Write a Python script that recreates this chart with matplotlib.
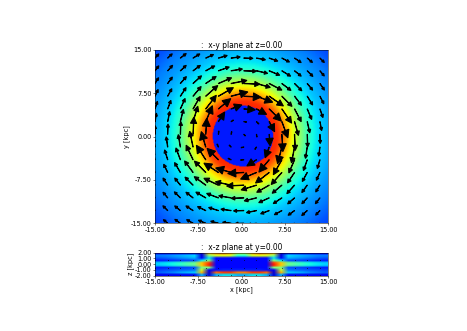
import matplotlib
matplotlib.use("Agg")
import matplotlib.pyplot as plt
import numpy as np

# speed, outside the inner disk
ring_radius = [5.25, 6.0, 6.5, 7.0, 7.5, 8.0, 8.5, 9.0, 9.5, 10.0, 11.0, 12.0, 13.0, 14.0, 15.0, 16.0, 18.0, 20.0, 22.0]
ring_speed = [0.87, 0.86, 0.83, 0.79, 0.74, 0.69, 0.65, 0.61, 0.56, 0.52, 0.44, 0.38, 0.35, 0.32, 0.30, 0.28, 0.25, 0.21, 0.18]
disk_radius = 5.25
disk_speed = 0.15
disk_center = 0.25

# arrow shape in kpc, one value per kpc of radius
arrow_length = [0.2, 0.4, 0.5, 0.5, 0.6, 2.0, 2.8, 3.0, 3.0, 2.8, 2.5,
                2.2, 2.0, 1.8, 1.6, 1.5, 1.4, 1.3, 1.2, 1.1, 1.0, 0.95]
arrow_head = [0.15, 0.15, 0.15, 0.15, 0.18, 1.3, 1.4, 1.35, 1.1, 0.9, 0.75,
              0.65, 0.6, 0.55, 0.55, 0.5, 0.5, 0.5, 0.45, 0.45, 0.45, 0.4]
arrow_pos = [-15.0, -12.8, -10.6, -8.4, -6.2, -4.0, -1.8, 0.4, 2.6, 4.8, 7.0, 9.2, 11.4, 13.6]

xz_field = [
    [0.55, 0.72, 0.78, 0.75, 0.70, 0.08, 0.14, 0.14, 0.13, 0.13, 0.12, 0.12],
    [0.40, 0.60, 0.62, 0.60, 0.50, 0.08, 0.34, 0.32, 0.30, 0.28, 0.26, 0.25],
    [0.13, 0.13, 0.13, 0.13, 0.35, 0.12, 0.30, 0.28, 0.26, 0.24, 0.22, 0.21],
    [0.13, 0.13, 0.13, 0.13, 0.50, 0.35, 0.20, 0.19, 0.18, 0.17, 0.16, 0.15],
    [0.13, 0.13, 0.13, 0.13, 0.85, 0.70, 0.48, 0.44, 0.40, 0.37, 0.35, 0.33],
    [0.13, 0.13, 0.13, 0.13, 0.88, 0.70, 0.48, 0.44, 0.40, 0.37, 0.35, 0.33],
    [0.13, 0.13, 0.13, 0.13, 0.50, 0.50, 0.20, 0.19, 0.18, 0.17, 0.16, 0.15],
    [0.16, 0.16, 0.16, 0.14, 0.10, 0.60, 0.24, 0.23, 0.22, 0.21, 0.20, 0.19],
    [0.78, 0.85, 0.85, 0.80, 0.08, 0.72, 0.33, 0.31, 0.29, 0.26, 0.24, 0.22],
    [0.30, 0.35, 0.35, 0.30, 0.08, 0.30, 0.10, 0.10, 0.10, 0.10, 0.10, 0.10],
]
xz_dot_rows = [0.75, -0.75, -1.95]

xy_ticks = [-15, -7.5, 0, 7.5, 15]
z_ticks = [-2, -1, 0, 1, 2]

W, H = 467, 331
fig = plt.figure(figsize=(W / 72, H / 72), dpi=72)
ax1 = fig.add_axes([155 / W, (H - 223.3) / H, 173 / W, 173.3 / H])
ax2 = fig.add_axes([155 / W, (H - 275.7) / H, 173 / W, 23.2 / H])

# xy plane
cells = np.linspace(-15, 15, 240)
xx, yy = np.meshgrid(cells, cells)
rr = np.hypot(xx - disk_center, yy)
field = np.where(rr < disk_radius, disk_speed, np.interp(rr, ring_radius, ring_speed))
ax1.imshow(field, origin="lower", extent=[-15, 15, -15, 15], cmap="jet", vmin=0, vmax=1,
           interpolation="bilinear", interpolation_stage="rgba", aspect="auto")

for y in arrow_pos:
    for x in arrow_pos:
        r = np.hypot(x, y)
        k = int(round(r))
        dx, dy = arrow_length[k] * y / r, -arrow_length[k] * x / r
        ax1.arrow(x, y, dx, dy, width=0.07, head_width=arrow_head[k], head_length=arrow_head[k],
                  color="k", length_includes_head=True, zorder=3)

ax1.set_xlim(-15, 15)
ax1.set_ylim(-15, 15)
ax1.set_title(":  x-y plane at z=0.00", fontsize=7.5, pad=2.5)
ax1.set_ylabel("y [kpc]", fontsize=6.5, labelpad=1)

# xz plane
half = np.array(xz_field)
full = np.hstack([half[:, ::-1], half])
ax2.imshow(full, extent=[-15, 15, -2, 2], cmap="jet", vmin=0, vmax=1,
           interpolation="bilinear", interpolation_stage="rgba", aspect="auto")
for z in xz_dot_rows:
    ax2.plot(arrow_pos, [z] * len(arrow_pos), "s", ms=1, color="k", alpha=0.6, mew=0)
ax2.set_xlim(-15, 15)
ax2.set_ylim(-2, 2)
ax2.set_title(":  x-z plane at y=0.00", fontsize=7.5, pad=2.5)
ax2.set_xlabel("x [kpc]", fontsize=6.5, labelpad=1)
ax2.set_ylabel("z [kpc]", fontsize=6.5, labelpad=1)

for ax in (ax1, ax2):
    ax.set_xticks(xy_ticks)
    ax.set_xticklabels(["%.2f" % t for t in xy_ticks])
    ax.tick_params(labelsize=6.5, length=2, width=0.5, pad=1.5)
    for s in ax.spines.values():
        s.set_linewidth(0.5)
ax1.set_yticks(xy_ticks)
ax1.set_yticklabels(["%.2f" % t for t in xy_ticks])
ax2.set_yticks(z_ticks)
ax2.set_yticklabels(["%.2f" % t for t in z_ticks])

fig.savefig("out.png", dpi=72)
